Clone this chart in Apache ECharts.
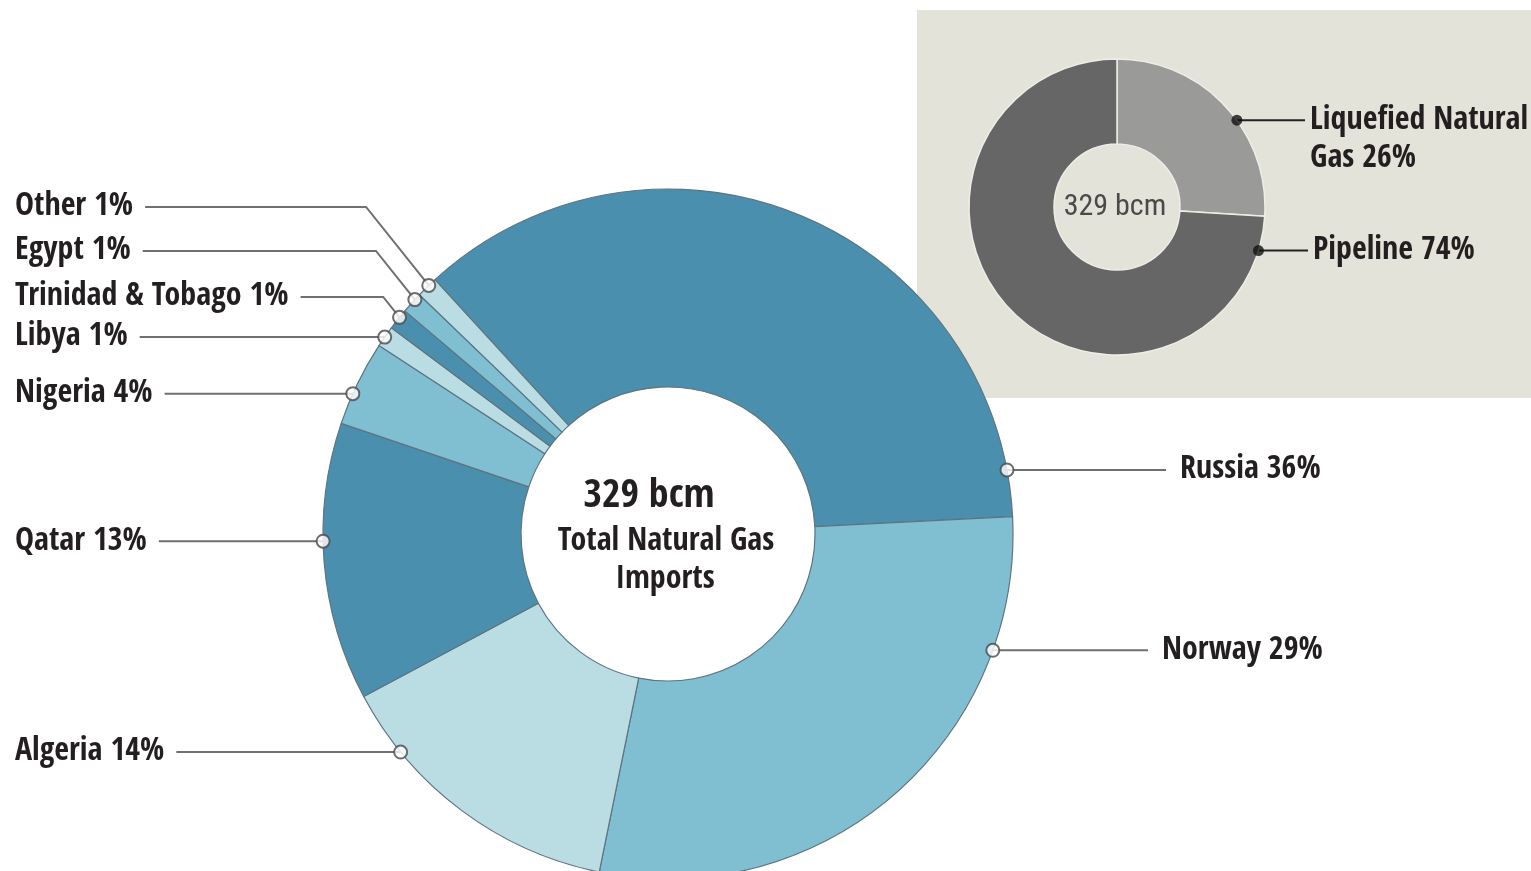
<!DOCTYPE html>
<html><head><meta charset="utf-8">
<script src="https://cdn.jsdelivr.net/npm/echarts@6/dist/echarts.min.js"></script>
<style>html,body{margin:0;padding:0;background:#fff}#c{width:1531px;height:871px}</style>
</head><body><div id="c"></div>
<script>
// ---- data ----
var countries = ['Russia', 'Norway', 'Algeria', 'Qatar', 'Nigeria', 'Libya', 'Trinidad & Tobago', 'Egypt', 'Other'];
var shares = [36, 29, 14, 13, 4, 1, 1, 1, 1];
var supplyTypes = ['Liquefied Natural Gas', 'Pipeline'];
var supplyShares = [26, 74];
var totalImports = 329; // bcm

// ---- layout / style ----
var FONT = '"Open Sans Condensed", "Roboto Condensed", sans-serif';
var FONT2 = '"Roboto Condensed", "Open Sans Condensed", sans-serif';
var MAIN = {cx: 668, cy: 534, r0: 147, r1: 345, start: 132.5};
var INSET = {cx: 1117, cy: 207, r0: 63, r1: 148, start: 90};
var mainAnchorDeg = [10.7, -19.7, 219.2, 181.2, 156, 145.2, 141.1, 137.2, 133.9];
var mainLabelX = [1180, 1162, 15, 15, 15, 15, 15, 15, 15];
var mainLabelY = [null, null, null, null, null, null, 297, 251, 207];
var insetAnchorDeg = [35.9, -17.1];
var insetLabelX = [1310, 1313];
var mainColors = ['#4a8fae', '#80bfd1', '#badce3'];
var insetColors = ['#9a9a98', '#666666'];

function anchorPoint(c, deg) {
  var rad = deg * Math.PI / 180;
  return [c.cx + c.r1 * Math.cos(rad), c.cy - c.r1 * Math.sin(rad)];
}
function norm(d) { return (d + 360) % 360; }

var chart = echarts.init(document.getElementById('c'), null, {renderer: 'canvas'});

var mainData = countries.map(function (n, i) {
  return {name: n, value: shares[i], itemStyle: {color: mainColors[i % 3]}};
});
var insetData = supplyTypes.map(function (n, i) {
  return {name: n, value: supplyShares[i], itemStyle: {color: insetColors[i]}};
});

var option = {
  backgroundColor: '#ffffff',
  animation: false,
  graphic: [
    {type: 'rect', z: 0, shape: {x: 917, y: 10, width: 614, height: 388}, style: {fill: '#e4e3d9'}},
    {type: 'text', z: 100, x: MAIN.cx - 19, y: 497, style: {text: totalImports + ' bcm', font: 'bold 40px ' + FONT, fill: '#231f20', textAlign: 'center', textVerticalAlign: 'middle'}},
    {type: 'text', z: 100, x: MAIN.cx - 2, y: 542, style: {text: 'Total Natural Gas', font: 'bold 32px ' + FONT, fill: '#231f20', textAlign: 'center', textVerticalAlign: 'middle'}},
    {type: 'text', z: 100, x: MAIN.cx - 3, y: 580, style: {text: 'Imports', font: 'bold 32px ' + FONT, fill: '#231f20', textAlign: 'center', textVerticalAlign: 'middle'}},
    {type: 'text', z: 100, x: INSET.cx - 2, y: 207, style: {text: totalImports + ' bcm', font: '30px ' + FONT2, fill: '#4a4a4a', textAlign: 'center', textVerticalAlign: 'middle'}}
  ],
  polar: [
    {center: [MAIN.cx, MAIN.cy], radius: MAIN.r1},
    {center: [INSET.cx, INSET.cy], radius: INSET.r1}
  ],
  angleAxis: [
    {polarIndex: 0, type: 'value', min: 0, max: 360, startAngle: 0, clockwise: false, show: false},
    {polarIndex: 1, type: 'value', min: 0, max: 360, startAngle: 0, clockwise: false, show: false}
  ],
  radiusAxis: [
    {polarIndex: 0, type: 'value', min: 0, max: 1, show: false},
    {polarIndex: 1, type: 'value', min: 0, max: 1, show: false}
  ],
  series: [
    {
      type: 'pie', z: 3,
      center: [MAIN.cx, MAIN.cy], radius: [MAIN.r0, MAIN.r1],
      startAngle: MAIN.start, clockwise: true, avoidLabelOverlap: false,
      data: mainData,
      itemStyle: {borderColor: '#5d7580', borderWidth: 1.2},
      label: {show: true, position: 'outside', formatter: function (p) { return p.name + ' ' + p.value + '%'; },
        fontFamily: FONT, fontSize: 32, fontWeight: 'bold', color: '#231f20'},
      labelLine: {show: true, length: 10, length2: 10, lineStyle: {color: '#707070', width: 2}},
      emphasis: {disabled: true},
      labelLayout: function (p) {
        var i = p.dataIndex;
        var a = anchorPoint(MAIN, mainAnchorDeg[i]);
        var y = mainLabelY[i] == null ? a[1] : mainLabelY[i];
        var x = mainLabelX[i];
        var w = p.labelRect.width;
        var pts;
        if (x < MAIN.cx) {
          var endX = x + w + 12;
          var bx = a[0] - Math.abs(a[1] - y) * 0.8;
          pts = [a, [bx, y], [endX, y]];
        } else {
          var ex = x - 14;
          pts = [a, [(a[0] + ex) / 2, y], [ex, y]];
        }
        return {x: x, y: y, align: 'left', verticalAlign: 'middle', labelLinePoints: pts};
      }
    },
    {
      type: 'pie', z: 3,
      center: [INSET.cx, INSET.cy], radius: [INSET.r0, INSET.r1],
      startAngle: INSET.start, clockwise: true, avoidLabelOverlap: false,
      data: insetData,
      itemStyle: {borderColor: '#eeeee8', borderWidth: 1.5},
      label: {show: true, position: 'outside',
        formatter: function (p) { return p.dataIndex === 0 ? 'Liquefied Natural\nGas ' + p.value + '%' : p.name + ' ' + p.value + '%'; },
        fontFamily: FONT, fontSize: 32, fontWeight: 'bold', color: '#231f20', lineHeight: 38},
      labelLine: {show: true, length: 10, length2: 10, lineStyle: {color: '#222', width: 2}},
      emphasis: {disabled: true},
      labelLayout: function (p) {
        var i = p.dataIndex;
        var a = anchorPoint(INSET, insetAnchorDeg[i]);
        var x = insetLabelX[i];
        var ex = x - 5;
        var pts = [a, [(a[0] + ex) / 2, a[1]], [ex, a[1]]];
        if (i === 0) return {x: x, y: a[1] - 19, align: 'left', verticalAlign: 'top', labelLinePoints: pts};
        return {x: x, y: a[1], align: 'left', verticalAlign: 'middle', labelLinePoints: pts};
      }
    },
    {
      type: 'scatter', coordinateSystem: 'polar', polarIndex: 0, z: 10,
      symbol: 'circle', symbolSize: 13, silent: true,
      itemStyle: {color: '#ffffff', borderColor: '#4a4a4a', borderWidth: 2},
      data: mainAnchorDeg.map(function (d) { return [1, norm(d)]; })
    },
    {
      type: 'scatter', coordinateSystem: 'polar', polarIndex: 1, z: 10,
      symbol: 'circle', symbolSize: 11, silent: true,
      itemStyle: {color: '#111111'},
      data: insetAnchorDeg.map(function (d) { return [1, norm(d)]; })
    }
  ]
};
chart.setOption(option);
</script>
</body></html>
